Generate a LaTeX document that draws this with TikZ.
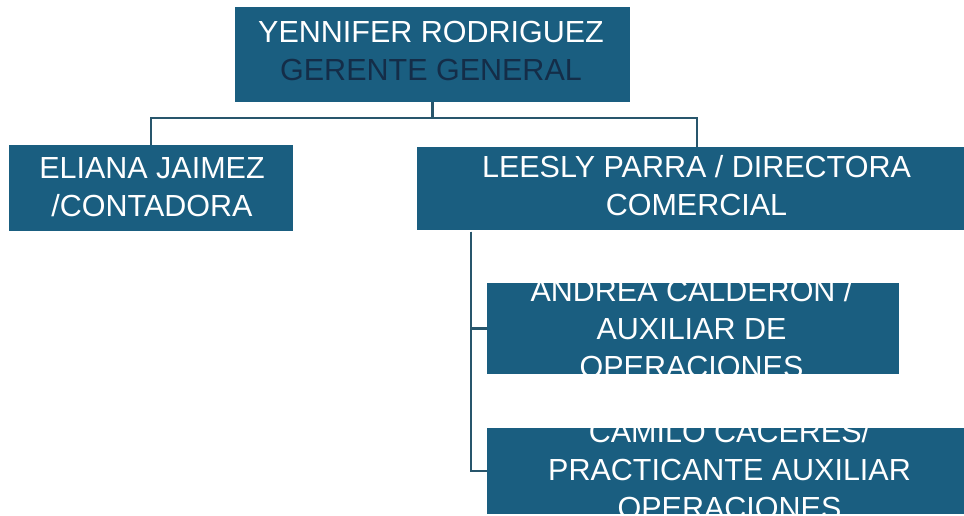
\documentclass[tikz,border=0pt]{standalone}
\usepackage{fontspec}
\setmainfont{Liberation Sans}
\definecolor{boxc}{RGB}{26,94,128}
\definecolor{linec}{RGB}{40,86,108}
\definecolor{darktxt}{RGB}{20,45,72}
\tikzset{
  box/.style={fill=boxc, draw=none, inner sep=0pt, rectangle},
  txt/.style={text=white, align=center, inner sep=0pt, font={\fontsize{30.5}{38}\selectfont}},
  conn/.style={draw=linec, line width=2.2pt}
}
\begin{document}
\begin{tikzpicture}[x=1pt,y=-1pt]
\useasboundingbox (0,0) rectangle (964,516);
% boxes
\node[box, minimum width=395pt, minimum height=95pt] (top) at (432.5,54.5) {};
\node[box, minimum width=284pt, minimum height=86pt] (eliana) at (151,188) {};
\node[box, minimum width=547pt, minimum height=83pt] (leesly) at (690.5,188.5) {};
\node[box, minimum width=412pt, minimum height=91pt] (andrea) at (693,328.5) {};
\node[box, minimum width=477pt, minimum height=86pt] (camilo) at (725.5,471) {};
% texts
\node[txt] (topt) at (431,51.5) {YENNIFER RODRIGUEZ\\\textcolor{darktxt}{GERENTE GENERAL}};
\node[txt] (elianat) at (152,187) {ELIANA JAIMEZ\\/CONTADORA};
\node[txt] (leeslyt) at (696.5,186) {LEESLY PARRA / DIRECTORA\\COMERCIAL};
\begin{scope}
\clip (andrea.south west) rectangle (andrea.north east);
\node[txt] (andreat) at (691.5,329) {ANDREA CALDERON /\\AUXILIAR DE\\OPERACIONES};
\end{scope}
\begin{scope}
\clip (camilo.south west) rectangle (camilo.north east);
\node[txt] (camilot) at (729.5,470) {CAMILO CACERES/\\PRACTICANTE AUXILIAR\\OPERACIONES};
\end{scope}
% connectors
\coordinate (hb) at (0,118);
\coordinate (lesj) at (697,147);
\coordinate (vb) at (471,231.5);
\draw[conn] (top.south) -- (top.south |- hb);
\draw[conn] (eliana.north) -- (eliana.north |- hb) -- (lesj |- hb) -- (lesj);
\draw[conn] (vb) |- (andrea.west);
\draw[conn] (vb) |- (camilo.west);
\end{tikzpicture}
\end{document}
